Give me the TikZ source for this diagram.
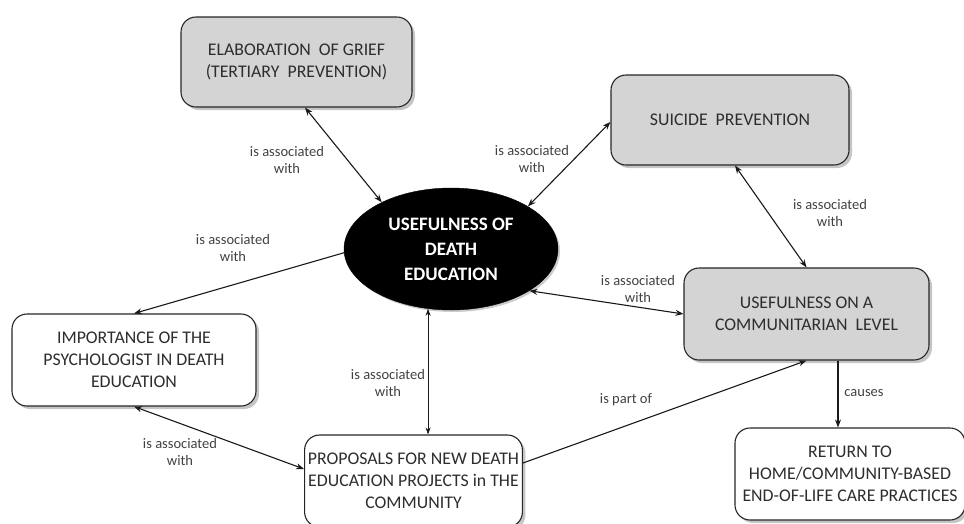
\documentclass[tikz,border=0pt]{standalone}
\usepackage{fontspec}
\setmainfont{Carlito}
\usetikzlibrary{shapes.geometric,arrows.meta,shadows,calc}
\definecolor{boxgray}{RGB}{212,212,212}
\definecolor{txt}{RGB}{45,45,45}
\definecolor{lbl}{RGB}{65,65,65}
\tikzset{
  base/.style={rounded corners=15pt, draw=black!85, line width=1.1pt, align=center,
    text=txt, font=\fontsize{17.8}{22}\selectfont,
    drop shadow={shadow xshift=3pt, shadow yshift=-3pt, fill=black!45}},
  graybox/.style={base, fill=boxgray},
  whitebox/.style={base, fill=white},
  lab/.style={align=center, text=lbl, font=\fontsize{14.5}{17}\selectfont},
  conn/.style={line width=1.1pt, black!90},
  tipb/.style={conn, {Stealth[length=8pt,width=6pt]}-{Stealth[length=8pt,width=6pt]}},
  tipe/.style={conn, -{Stealth[length=8pt,width=6pt]}}
}
\begin{document}
\begin{tikzpicture}[x=1pt,y=-1pt]
\useasboundingbox (0,0) rectangle (964,523);
\clip (0,0) rectangle (964,523);
\node[graybox, minimum width=231pt, minimum height=90pt] (elab) at (296.5,62) {ELABORATION \ OF GRIEF\\(TERTIARY \ PREVENTION)};
\node[graybox, minimum width=238pt, minimum height=90pt] (sui) at (730,120) {SUICIDE \ PREVENTION};
\node[graybox, minimum width=245pt, minimum height=92pt] (comm) at (806.5,314) {USEFULNESS ON A\\COMMUNITARIAN \ LEVEL};
\node[whitebox, minimum width=244pt, minimum height=92pt] (imp) at (134,360) {IMPORTANCE OF THE\\PSYCHOLOGIST IN DEATH\\EDUCATION};
\node[whitebox, minimum width=217pt, minimum height=92pt] (prop) at (413.5,481) {PROPOSALS FOR NEW DEATH\\EDUCATION PROJECTS in THE\\COMMUNITY};
\node[whitebox, minimum width=230pt, minimum height=92pt] (ret) at (850,474) {RETURN TO\\HOME/COMMUNITY-BASED\\END-OF-LIFE CARE PRACTICES};
\node[ellipse, fill=black, draw=black, minimum width=214pt, minimum height=122pt, inner sep=0pt,
  text=white, align=center, font=\bfseries\fontsize{19}{25}\selectfont,
  drop shadow={shadow xshift=2pt, shadow yshift=-2pt, fill=black!40}] (ell) at (451,249) {USEFULNESS OF\\DEATH\\EDUCATION};

\draw[tipb] ([xshift=8.5pt]elab.south) -- (ell.146);
\draw[tipb] (ell.29) -- ([yshift=-2pt]sui.west);
\draw[tipb] ([xshift=5pt]sui.south) -- (comm.north);
\draw[tipb] (ell.-28) -- (comm.west);
\draw[tipe] (ell.182) -- (imp.north);
\draw[line width=0.7pt, black!90, {Stealth[length=7pt,width=5pt]}-{Stealth[length=7pt,width=5pt]}] (ell.-111) -- (ell.-111 |- prop.north);
\draw[tipb] (imp.south) -- ([yshift=12pt]prop.west);
\draw[tipe] ([yshift=18pt]prop.east) -- (comm.south);
\coordinate (cs) at ([xshift=31.5pt]comm.south);
\draw[tipe] (cs) -- (cs |- ret.north);

\node[lab] (l1) at (287,160) {is associated\\with};
\node[lab] (l2) at (532,159) {is associated\\with};
\node[lab] (l3) at (830,213) {is associated\\with};
\node[lab] (l4) at (233,248) {is associated\\with};
\node[lab] (l5) at (638,289) {is associated\\with};
\node[lab] (l6) at (388,383) {is associated\\with};
\node[lab] (l7) at (180,452) {is associated\\with};
\node[lab] (l8) at (626,400) {is part of};
\node[lab] (l9) at (864,393) {causes};
\end{tikzpicture}
\end{document}
